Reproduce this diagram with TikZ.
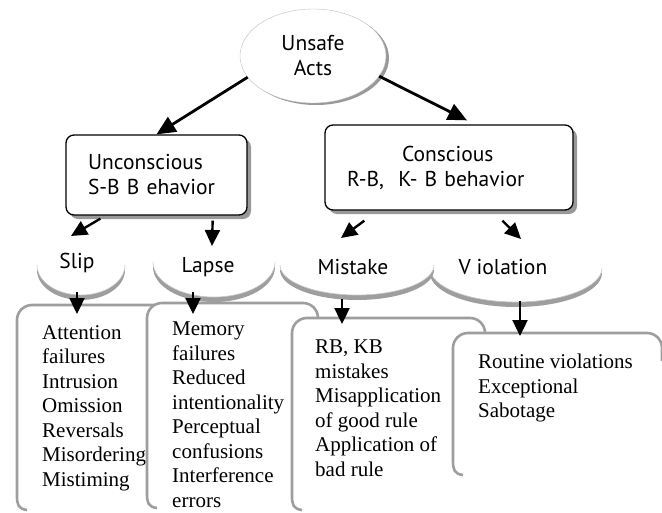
\documentclass[tikz,border=0pt]{standalone}
\usepackage{fontspec}
\setmainfont{Liberation Serif}
\newfontfamily\labelfont{PT Sans}
\usetikzlibrary{positioning,calc,shapes.geometric,shadows,arrows.meta}

\tikzset{
	bigarrow/.style={line width=2.8pt, -{Triangle[length=19pt,width=17pt]}},
	smallarrow/.style={line width=2.4pt, -{Triangle[length=16pt,width=15pt]}},
	sanslabel/.style={font=\labelfont\fontsize{21.5}{25}\selectfont},
	behavbox/.style={draw=black, line width=1.3pt, fill=white, rounded corners=8pt,
		inner xsep=22pt, align=left, sanslabel,
		drop shadow={shadow xshift=4pt, shadow yshift=-4pt, fill=black!40, opacity=1}},
	cupshade/.style={fill=black!38},
	cupface/.style={fill=white, draw=black!22, line width=0.6pt},
	listline/.style={draw=black!38, line width=2.6pt},
	listtext/.style={anchor=north west, inner sep=0pt, align=left,
		font=\fontsize{21}{24.5}\selectfont},
}

% cup shaped label: centre x, centre y, x radius, y radius
\newcommand{\drawcup}[4]{%
	\fill[cupshade] (#1-#3,#2+5) arc[start angle=180, end angle=0, x radius=#3, y radius=#4] -- cycle;
	\filldraw[cupface] (#1-#3,#2) arc[start angle=180, end angle=0, x radius=#3, y radius=#4];
}
% list frame: left, top, right, bottom
\newcommand{\listframe}[4]{%
	\fill[white, rounded corners=15pt] (#1,#4) -- (#1,#2) -- (#3,#2) -- (#3,#4) -- cycle;
	\draw[listline] (#1+10,#4) .. controls (#1+1,#4-1) and (#1,#4-6) .. (#1,#4-14)
		[rounded corners=15pt] -- (#1,#2) -- (#3,#2) -- (#3,#2+28);
}

\begin{document}
\begin{tikzpicture}[x=1pt, y=-1pt]
	\useasboundingbox (0,0) rectangle (662,512);

	% top
	\node[ellipse, draw=black!25, fill=white, minimum width=146pt, minimum height=94pt,
		align=center, sanslabel,
		drop shadow={shadow xshift=3pt, shadow yshift=-2pt, fill=black!40, opacity=1}]
		(unsafe) at (313,56) {Unsafe\\Acts};

	\node[behavbox, text width=137pt, minimum height=80pt] (uncon) at (156.5,175)
		{Unconscious\\S-B B ehavior};
	\node[behavbox, text width=204pt, minimum height=85pt] (consc) at (449,167.5)
		{\hspace*{55pt}Conscious\\R-B,\ \ K- B behavior};

	\draw[bigarrow] (unsafe.198) -- (uncon.north);
	\draw[bigarrow] (unsafe.-17) -- ($(consc.north)+(18,-4)$);

	% error types
	\drawcup{516}{268}{86}{34}
	\drawcup{357}{265}{77}{30}
	\drawcup{214}{262}{61}{35}
	\drawcup{81}{265}{44}{30}
	\node[sanslabel] (slip) at (77,263) {Slip};
	\node[sanslabel] (lapse) at (208,267) {Lapse};
	\node[sanslabel] (mistake) at (353,267) {Mistake};
	\node[sanslabel] (violation) at (503,267) {V iolation};

	\draw[smallarrow] ($(uncon.south west)+(35,3)$) -- ($(slip)+(-6,-27)$);
	\draw[smallarrow] ($(uncon.south east)+(-35,5)$) -- ($(lapse)+(4,-21)$);
	\draw[smallarrow] ($(consc.south west)+(40,10)$) -- ($(mistake)+(-12,-29)$);
	\draw[smallarrow] ($(consc.south west)+(178,10)$) -- ($(violation)+(18,-28)$);

	% lists
	\coordinate (slipframe) at (17,305);
	\coordinate (lapseframe) at (147,303);
	\coordinate (mistframe) at (292,318);
	\coordinate (violframe) at (453,333);

	\listframe{17}{305}{200}{510}
	\node[listtext] (sliplist) at (42,325)
		{Attention\\failures\\Intrusion\\Omission\\Reversals\\Misordering\\Mistiming};
	\listframe{147}{303}{318}{508}
	\node[listtext] (lapselist) at (172,322)
		{Memory\\failures\\Reduced\\intentionality\\Perceptual\\confusions\\Interference\\errors};
	\listframe{292}{318}{485}{510}
	\node[listtext] (mistlist) at (315,340)
		{RB, KB\\mistakes\\Misapplication\\of good rule\\Application of\\bad rule};
	\listframe{453}{333}{662}{475}
	\node[listtext] (viollist) at (478,354)
		{Routine violations\\Exceptional\\Sabotage};

	\draw[smallarrow] ($(slip)+(0,29)$) -- ($(slipframe)+(60,9)$);
	\draw[smallarrow] ($(lapse)+(-15,25)$) -- ($(lapseframe)+(46,11)$);
	\draw[smallarrow] ($(mistake)+(-11,32)$) -- ($(mistframe)+(50,6)$);
	\draw[smallarrow] ($(violation)+(17,34)$) -- ($(violframe)+(67,3)$);
\end{tikzpicture}
\end{document}
